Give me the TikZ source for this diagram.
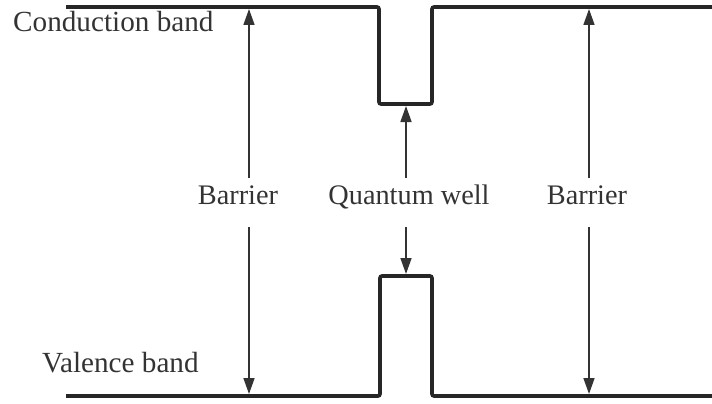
\documentclass[tikz,border=0pt]{standalone}
\usepackage{fontspec}
\setmainfont{Liberation Serif}
\usetikzlibrary{arrows.meta}
\begin{document}
\begin{tikzpicture}[x=1pt,y=-1pt,
  band/.style={line width=3.6pt,draw=black!85,rounded corners=2pt,line cap=butt},
  arr/.style={line width=1.6pt,draw=black!80,-{Triangle[length=16pt,width=11pt]}},
  lbl/.style={font=\fontsize{28.3}{30}\selectfont,text=black!80,inner sep=0pt,anchor=base},
  blbl/.style={font=\fontsize{29.2}{31}\selectfont,text=black!80,inner sep=0pt,anchor=base west}]
\useasboundingbox (0,0) rectangle (712,404);
% bands
\draw[band] (66,7) -- (379,7) -- (379,104) -- (432,104) -- (432,7) -- (712,7);
\draw[band] (66,396) -- (380,396) -- (380,276) -- (432,276) -- (432,396) -- (712,396);
% band labels
\node[blbl] (cb) at (13,32) {Conduction band};
\node[blbl] (vb) at (42,372) {Valence band};
% mid labels
\node[lbl] (bl) at (238,204) {Barrier};
\node[lbl] (qw) at (409,204) {Quantum well};
\node[lbl] (br) at (587,204) {Barrier};
% arrow end points
\coordinate (lt) at (249,9);
\coordinate (lbt) at (249,394);
\coordinate (mt) at (406,106);
\coordinate (mb) at (406,274);
\coordinate (rt) at (589,9);
\coordinate (rbt) at (589,394);
% arrows
\draw[arr] ([yshift=26pt]bl.base -| lt) -- (lt);
\draw[arr] ([yshift=-23pt]bl.base -| lbt) -- (lbt);
\draw[arr] ([yshift=26pt]qw.base -| mt) -- (mt);
\draw[arr] ([yshift=-23pt]qw.base -| mb) -- (mb);
\draw[arr] ([yshift=26pt]br.base -| rt) -- (rt);
\draw[arr] ([yshift=-23pt]br.base -| rbt) -- (rbt);
\end{tikzpicture}
\end{document}
